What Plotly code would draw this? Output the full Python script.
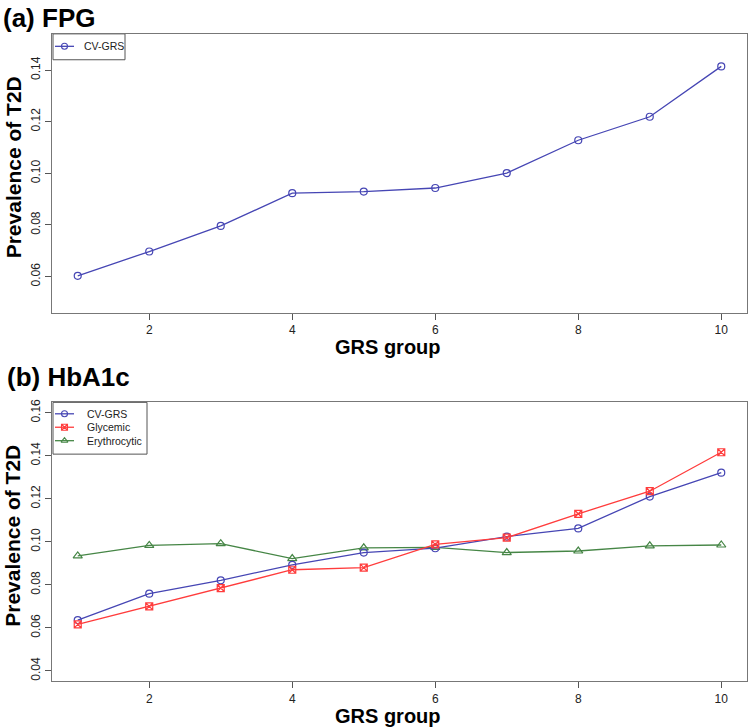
import plotly.graph_objects as go

W, H = 748, 728

groups = [1, 2, 3, 4, 5, 6, 7, 8, 9, 10]
x_ticks = [2, 4, 6, 8, 10]

# (a) FPG
fpg_cv_grs = [0.0603, 0.0697, 0.0796, 0.0923, 0.0929, 0.0943, 0.1001, 0.1128, 0.1219, 0.1414]
fpg_y_ticks = [0.06, 0.08, 0.10, 0.12, 0.14]
fpg_y_labels = ["0.06", "0.08", "0.10", "0.12", "0.14"]

# (b) HbA1c
hba_cv_grs = [0.0636, 0.0759, 0.0821, 0.0893, 0.0950, 0.0970, 0.1024, 0.1062, 0.1210, 0.1321]
hba_glycemic = [0.0616, 0.0700, 0.0785, 0.0870, 0.0880, 0.0988, 0.1019, 0.1130, 0.1235, 0.1416]
hba_erythro = [0.0934, 0.0983, 0.0991, 0.0922, 0.0972, 0.0974, 0.0950, 0.0957, 0.0981, 0.0985]
hba_y_ticks = [0.04, 0.06, 0.08, 0.10, 0.12, 0.14, 0.16]
hba_y_labels = ["0.04", "0.06", "0.08", "0.10", "0.12", "0.14", "0.16"]

BLUE = "#4646b4"
RED = "#ff3c3c"
GREEN = "#468646"
FONT = "Liberation Sans, Arial, Helvetica, sans-serif"


def px(x):
    return x / W


def py(y):
    return 1 - y / H


fig = go.Figure()

mk = dict(size=7, line=dict(width=1.2))

fig.add_trace(go.Scatter(x=groups, y=fpg_cv_grs, mode="lines+markers", xaxis="x", yaxis="y",
                         line=dict(color=BLUE, width=1.3),
                         marker=dict(symbol="circle-open", color=BLUE, **mk)))

fig.add_trace(go.Scatter(x=groups, y=hba_erythro, mode="lines+markers", xaxis="x2", yaxis="y2",
                         line=dict(color=GREEN, width=1.3),
                         marker=dict(symbol="triangle-up-open", color=GREEN, size=8, line=dict(width=1.2))))
fig.add_trace(go.Scatter(x=groups, y=hba_cv_grs, mode="lines+markers", xaxis="x2", yaxis="y2",
                         line=dict(color=BLUE, width=1.3),
                         marker=dict(symbol="circle-open", color=BLUE, **mk)))
fig.add_trace(go.Scatter(x=groups, y=hba_glycemic, mode="lines+markers", xaxis="x2", yaxis="y2",
                         line=dict(color=RED, width=1.3),
                         marker=dict(symbol="square-x-open", color=RED, **mk)))

# manual legends (overlay pixel axes)
legend_items = [
    # (x0, x1, y, color, symbol, label, text_x)
    (55, 74, 43.5, BLUE, "circle-open", "CV-GRS", 82),
    (55, 74, 412.5, BLUE, "circle-open", "CV-GRS", 85),
    (55, 74, 426, RED, "square-x-open", "Glycemic", 85),
    (55, 74, 439.5, GREEN, "triangle-up-open", "Erythrocytic", 85),
]
annotations = []
for x0, x1, yy, col, sym, lab, tx in legend_items:
    fig.add_trace(go.Scatter(x=[x0, x1], y=[yy, yy], mode="lines", xaxis="x3", yaxis="y3",
                             line=dict(color=col, width=1.3), hoverinfo="skip"))
    fig.add_trace(go.Scatter(x=[(x0 + x1) / 2], y=[yy], mode="markers", xaxis="x3", yaxis="y3",
                             marker=dict(symbol=sym, color=col, size=6, line=dict(width=1.1)),
                             hoverinfo="skip"))
    annotations.append(dict(x=px(tx), y=py(yy), xref="paper", yref="paper", text=lab,
                            showarrow=False, xanchor="left", yanchor="middle",
                            font=dict(family=FONT, size=10.5, color="#222")))

shapes = [
    dict(type="rect", xref="paper", yref="paper", x0=px(53), x1=px(125), y0=py(31), y1=py(57),
         line=dict(color="#555", width=1), fillcolor="white", layer="below"),
    dict(type="rect", xref="paper", yref="paper", x0=px(53), x1=px(147), y0=py(401), y1=py(453),
         line=dict(color="#555", width=1), fillcolor="white", layer="below"),
]

# titles
annotations += [
    dict(x=px(1), y=py(15), xref="paper", yref="paper", text="<b>(a) FPG</b>", showarrow=False,
         xanchor="left", yanchor="middle", font=dict(family=FONT, size=26, color="black")),
    dict(x=px(5), y=py(376), xref="paper", yref="paper", text="<b>(b) HbA1c</b>", showarrow=False,
         xanchor="left", yanchor="middle", font=dict(family=FONT, size=26, color="black")),
    dict(x=px(388), y=py(345), xref="paper", yref="paper", text="<b>GRS group</b>", showarrow=False,
         xanchor="center", yanchor="middle", font=dict(family=FONT, size=20, color="black")),
    dict(x=px(388), y=py(716), xref="paper", yref="paper", text="<b>GRS group</b>", showarrow=False,
         xanchor="center", yanchor="middle", font=dict(family=FONT, size=20, color="black")),
    dict(x=px(13), y=py(165), xref="paper", yref="paper", text="<b>Prevalence of T2D</b>",
         showarrow=False, textangle=-90, xanchor="center", yanchor="middle",
         font=dict(family=FONT, size=21, color="black")),
    dict(x=px(13), y=py(535), xref="paper", yref="paper", text="<b>Prevalence of T2D</b>",
         showarrow=False, textangle=-90, xanchor="center", yanchor="middle",
         font=dict(family=FONT, size=21, color="black")),
]

axis_common = dict(showline=True, mirror=True, linecolor="#777", linewidth=1, ticks="outside",
                   ticklen=6, tickcolor="#555", showgrid=False, zeroline=False,
                   tickfont=dict(family=FONT, size=12, color="#222"))
xdom = [px(52), px(747)]

fig.update_layout(
    width=W, height=H,
    margin=dict(l=0, r=0, t=0, b=0),
    paper_bgcolor="white", plot_bgcolor="rgba(0,0,0,0)",
    showlegend=False,
    hovermode=False,
    xaxis=dict(domain=xdom, anchor="y", range=[0.64, 10.36], tickvals=x_ticks, **axis_common),
    yaxis=dict(domain=[py(311), py(31)], anchor="x", range=[0.046, 0.154], tickvals=fpg_y_ticks,
               ticktext=fpg_y_labels, tickangle=-90, **axis_common),
    xaxis2=dict(domain=xdom, anchor="y2", range=[0.64, 10.36], tickvals=x_ticks, **axis_common),
    yaxis2=dict(domain=[py(681), py(401)], anchor="x2", range=[0.0352, 0.1648], tickvals=hba_y_ticks,
                ticktext=hba_y_labels, tickangle=-90, **axis_common),
    xaxis3=dict(domain=[0, 1], anchor="y3", range=[0, W], visible=False, fixedrange=True),
    yaxis3=dict(domain=[0, 1], anchor="x3", range=[H, 0], visible=False, fixedrange=True),
    annotations=annotations,
    shapes=shapes,
)

fig.write_html(
    "out.html",
    config={"displayModeBar": False},
    post_script="document.body.style.margin='0';document.body.style.padding='0';"
                "document.documentElement.style.overflow='hidden';",
)
